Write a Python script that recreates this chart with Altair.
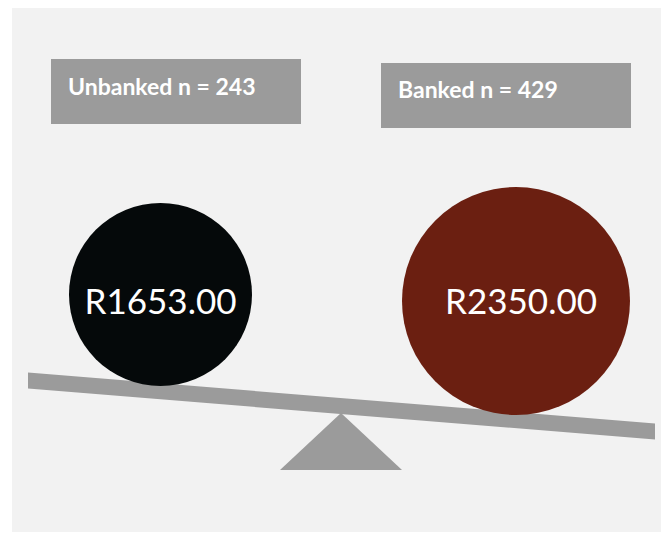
import altair as alt
import pandas as pd

# ---- data ----
groups = ["Unbanked", "Banked"]
n_values = [243, 429]
incomes = [1653.00, 2350.00]
group_colors = ["#05090a", "#6b1f11"]

# ---- layout (page pixel coordinates, converted to chart coords below) ----
OX, OY = 8, 8
W, H = 653, 524

def cx(v):
    return v - OX

def cy(v):
    return v - OY

circle_pos = [(160.5, 294.5), (516.0, 301.0)]
circle_diam = [183, 228]
value_text_pos = [(160.5, 314.0), (521.0, 314.0)]
box_rects = [(51, 59, 301, 124), (381, 63, 631, 128)]
box_text_pos = [(68, 95), (398, 98)]

beam_x = [28, 655]
beam_top = [372.5, 423.5]
beam_bot = [388.5, 439.5]

tri_x = [280, 341, 402]
tri_top = [470, 413, 470]
tri_bot = [470, 470, 470]

GRAY = "#9b9b9b"
PANEL = "#f2f2f2"

xs = alt.Scale(domain=[0, W], nice=False, zero=False)
ys = alt.Scale(domain=[0, H], nice=False, zero=False, reverse=True)

def X(field="x"):
    return alt.X(f"{field}:Q", scale=xs, axis=None)

def Y(field="y"):
    return alt.Y(f"{field}:Q", scale=ys, axis=None)

# panel background
panel_df = pd.DataFrame({"x": [cx(12)], "x2": [W], "y": [0], "y2": [H]})
panel = alt.Chart(panel_df).mark_rect(color=PANEL).encode(
    x=X(), x2="x2:Q", y=Y(), y2="y2:Q"
)

# label boxes
box_df = pd.DataFrame({
    "group": groups,
    "x": [cx(b[0]) for b in box_rects],
    "x2": [cx(b[2]) for b in box_rects],
    "y": [cy(b[1]) for b in box_rects],
    "y2": [cy(b[3]) for b in box_rects],
})
boxes = alt.Chart(box_df).mark_rect(color=GRAY).encode(
    x=X(), x2="x2:Q", y=Y(), y2="y2:Q"
)

label_df = pd.DataFrame({
    "label": [f"{g} n = {n}" for g, n in zip(groups, n_values)],
    "x": [cx(p[0]) for p in box_text_pos],
    "y": [cy(p[1]) for p in box_text_pos],
})
labels = alt.Chart(label_df).mark_text(
    align="left", baseline="alphabetic", font="Lato", fontWeight="bold",
    fontSize=23, color="white"
).encode(x=X(), y=Y(), text="label:N")

# beam
beam_df = pd.DataFrame({
    "x": [cx(v) for v in beam_x],
    "y": [cy(v) for v in beam_top],
    "y2": [cy(v) for v in beam_bot],
})
beam = alt.Chart(beam_df).mark_area(color=GRAY, opacity=1, interpolate="linear").encode(
    x=X(), y=Y(), y2="y2:Q"
)

# fulcrum
tri_df = pd.DataFrame({
    "x": [cx(v) for v in tri_x],
    "y": [cy(v) for v in tri_top],
    "y2": [cy(v) for v in tri_bot],
})
fulcrum = alt.Chart(tri_df).mark_area(color=GRAY, opacity=1, interpolate="linear").encode(
    x=X(), y=Y(), y2="y2:Q"
)

# weights (circles sized by mean income)
circ_df = pd.DataFrame({
    "group": groups,
    "income": incomes,
    "x": [cx(p[0]) for p in circle_pos],
    "y": [cy(p[1]) for p in circle_pos],
})
circles = alt.Chart(circ_df).mark_circle(opacity=1).encode(
    x=X(), y=Y(),
    size=alt.Size("income:Q", legend=None,
                  scale=alt.Scale(type="linear", zero=False, domain=incomes,
                                  range=[d * d for d in circle_diam])),
    color=alt.Color("group:N", legend=None,
                    scale=alt.Scale(domain=groups, range=group_colors)),
)

val_df = pd.DataFrame({
    "label": [f"R{v:.2f}" for v in incomes],
    "x": [cx(p[0]) for p in value_text_pos],
    "y": [cy(p[1]) for p in value_text_pos],
})
values = alt.Chart(val_df).mark_text(
    align="center", baseline="alphabetic", font="Lato", fontSize=35,
    color="white"
).encode(x=X(), y=Y(), text="label:N")

chart = alt.layer(panel, boxes, labels, beam, fulcrum, circles, values).properties(
    width=W, height=H, padding=0, autosize=alt.AutoSizeParams(type="none"),
    background="white"
).configure_view(stroke=None)

chart.save("out.html", embed_options={"renderer": "svg", "actions": False})
